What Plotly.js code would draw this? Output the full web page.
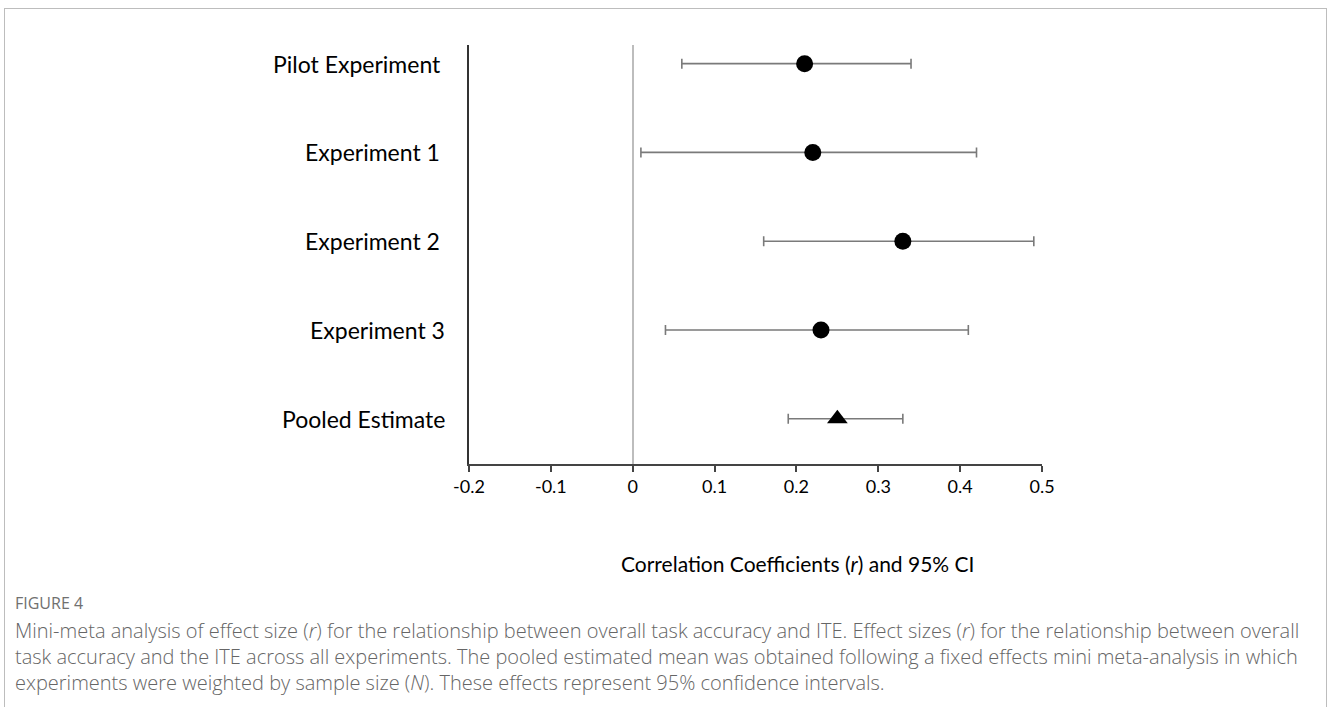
<!DOCTYPE html>
<html>
<head>
<meta charset="utf-8">
<script src="https://cdn.plot.ly/plotly-3.0.1.min.js"></script>
<style>
  html, body { margin: 0; padding: 0; background: #ffffff; }
  #frame { position: absolute; left: 4px; top: 8px; width: 1321px; height: 700px;
           border-left: 1.5px solid #bdbdbd; border-top: 1.5px solid #bdbdbd; border-right: 1.5px solid #bdbdbd; }
  #chart { position: absolute; left: 0; top: 0; width: 1328px; height: 707px; }
</style>
</head>
<body>
<div id="frame"></div>
<div id="chart"></div>
<script>
// ---- data ----
const studies   = ["Pilot Experiment", "Experiment 1", "Experiment 2", "Experiment 3", "Pooled Estimate"];
const rValues   = [0.21, 0.22, 0.33, 0.23, 0.25];
const ciLow     = [0.06, 0.01, 0.16, 0.04, 0.19];
const ciHigh    = [0.34, 0.42, 0.49, 0.41, 0.33];
const rowPos    = [5, 4, 3, 2, 1];
const xTickVals = [-0.2, -0.1, 0, 0.1, 0.2, 0.3, 0.4, 0.5];
const xTickText = ["-0.2", "-0.1", "0", "0.1", "0.2", "0.3", "0.4", "0.5"];
const labelRightEdge = [443, 442, 442, 447, 447];
const axisTitle = "Correlation Coefficients (<i>r</i>) and 95% CI";
const figLabel  = "FIGURE 4";
const captionLines = [
  "Mini-meta analysis of effect size (<i>r</i>) for the relationship between overall task accuracy and ITE. Effect sizes (<i>r</i>) for the relationship between overall",
  "task accuracy and the ITE across all experiments. The pooled estimated mean was obtained following a fixed effects mini meta-analysis in which",
  "experiments were weighted by sample size (<i>N</i>). These effects represent 95% confidence intervals."
];

// ---- layout constants (pixels) ----
const PLOT_L = 469, PLOT_R = 1042, PLOT_T = 45, PLOT_B = 464;
const W = 1328, H = 707;

const idxStudies = [0, 1, 2, 3];
const idxPooled = [4];
function pick(arr, idx) { return idx.map(i => arr[i]); }

function makeTrace(idx, symbol) {
  return {
    type: "scatter",
    mode: "markers",
    x: pick(rValues, idx),
    y: pick(rowPos, idx),
    marker: { symbol: symbol, size: symbol === "circle" ? 17 : 18, color: "#000000" },
    error_x: {
      type: "data",
      symmetric: false,
      array: idx.map(i => ciHigh[i] - rValues[i]),
      arrayminus: idx.map(i => rValues[i] - ciLow[i]),
      color: "#7a7a7a",
      thickness: 1.6,
      width: 5
    },
    hoverinfo: "x+y",
    showlegend: false
  };
}

const traces = [makeTrace(idxStudies, "circle"), makeTrace(idxPooled, "triangle-up")];

const annotations = [];
studies.forEach((s, i) => {
  annotations.push({
    xref: "paper", yref: "y", x: 0, y: rowPos[i],
    xshift: -(PLOT_L - labelRightEdge[i]),
    xanchor: "right", yanchor: "middle",
    text: s, showarrow: false,
    font: { family: "Lato, 'DejaVu Sans', sans-serif", size: 23, color: "#000000" }
  });
});
annotations.push({
  xref: "paper", yref: "paper", x: 0, y: 0,
  xshift: 797 - PLOT_L, yshift: -(563 - PLOT_B),
  xanchor: "center", yanchor: "middle",
  text: axisTitle, showarrow: false,
  font: { family: "Lato, 'DejaVu Sans', sans-serif", size: 21, color: "#000000" }
});
annotations.push({
  xref: "paper", yref: "paper", x: 0, y: 0,
  xshift: 13 - PLOT_L, yshift: -(603 - PLOT_B),
  xanchor: "left", yanchor: "middle",
  text: figLabel, showarrow: false,
  font: { family: "'Open Sans', sans-serif", size: 16, color: "#707070" }
});
annotations.push({
  xref: "paper", yref: "paper", x: 0, y: 0,
  xshift: 13 - PLOT_L, yshift: -(656 - PLOT_B),
  xanchor: "left", yanchor: "middle", align: "left",
  text: captionLines.join("<br>"), showarrow: false,
  font: { family: "'Open Sans', sans-serif", size: 20, color: "#666666", weight: 300 }
});

const layout = {
  width: W, height: H,
  paper_bgcolor: "rgba(0,0,0,0)",
  plot_bgcolor: "rgba(0,0,0,0)",
  margin: { l: PLOT_L, r: W - PLOT_R, t: PLOT_T, b: H - PLOT_B, pad: 0 },
  xaxis: {
    range: [-0.2, 0.5],
    tickvals: xTickVals, ticktext: xTickText,
    showgrid: false,
    zeroline: true, zerolinecolor: "#bdbdbd", zerolinewidth: 1.5,
    showline: true, linecolor: "#444444", linewidth: 1.5,
    ticks: "outside", ticklen: 6, tickwidth: 1.5, tickcolor: "#444444",
    tickfont: { family: "Lato, 'DejaVu Sans', sans-serif", size: 18, color: "#000000" },
    fixedrange: true
  },
  yaxis: {
    range: [0.49, 5.21],
    showgrid: false, zeroline: false,
    showline: true, linecolor: "#333333", linewidth: 1.5,
    showticklabels: false, ticks: "",
    fixedrange: true
  },
  annotations: annotations,
  showlegend: false
};

Plotly.newPlot("chart", traces, layout, { displayModeBar: false });
</script>
</body>
</html>
